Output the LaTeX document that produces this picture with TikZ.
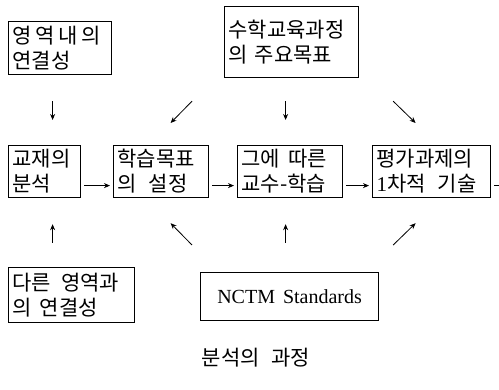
\documentclass[tikz,border=0pt]{standalone}
\usepackage{fontspec}
\setmainfont{Noto Sans CJK KR}
\newfontfamily\tms{Liberation Serif}
\usetikzlibrary{arrows.meta,calc}
\tikzset{
  box/.style={draw, line width=1.2pt, inner xsep=4pt, inner ysep=0pt, align=left, anchor=north west,
    font=\fontsize{21}{25}\selectfont},
  arr/.style={line width=0.8pt, -{Stealth[length=6pt,width=5pt]}},
  captxt/.style={font=\fontsize{21}{25}\selectfont}
}
\begin{document}
\begin{tikzpicture}[x=1pt,y=-1pt]
\useasboundingbox (0,0) rectangle (499,390);
\node[box, text width=95pt, minimum height=53pt] (A) at (8,21) {\mbox{영\hspace{3.5pt}역\hspace{3.5pt}내\hspace{3.5pt}의}\\\mbox{연결성}};
\node[box, text width=126pt, minimum height=71pt] (B) at (224,6) {\mbox{수학교육과정}\\\mbox{의 주요목표}};
\node[box, text width=64pt, minimum height=52pt] (C) at (8,145) {\mbox{교재의}\\\mbox{분석}};
\node[box, text width=87pt, minimum height=52pt] (D) at (113,145) {\mbox{학습목표}\\\mbox{의\hspace{12pt}설정}};
\node[box, text width=97pt, minimum height=52pt] (E) at (237,145) {\mbox{그에\hspace{8pt}따른}\\\mbox{교수-학습}};
\node[box, text width=110pt, minimum height=52pt] (F) at (372,145) {\mbox{평가과제의}\\\mbox{{\tms 1}차적\hspace{12pt}기술}};
\node[box, text width=118pt, minimum height=55pt] (G) at (8,267) {\mbox{다른\hspace{10pt}영역과}\\\mbox{의\hspace{8pt}연결성}};
\node[box, align=center, minimum width=178pt, minimum height=48pt, font=\tms\fontsize{20}{24}\selectfont] (H) at (200,272) {NCTM\hspace{8pt}Standards};
\node[captxt] (T) at (256,358) {분석의\hspace{12pt}과정};
% horizontal arrows
\draw[arr] ($(C.east)+(3,14)$) -- ($(D.west)+(-3,14)$);
\draw[arr] ($(D.east)+(3,14)$) -- ($(E.west)+(-3,14)$);
\draw[arr] ($(E.east)+(3,14)$) -- ($(F.west)+(-3,14)$);
\draw[line width=0.8pt] ($(F.east)+(3,14)$) -- ++(12,0);
% top arrows
\draw[arr] ($(A.south)+(-7.5,26)$) -- ($(C.north)+(8,-25)$);
\draw[arr] ($(B.south west)+(-32,23)$) -- ($(D.north)+(9.5,-22)$);
\draw[arr] ($(B.south)+(-6,23)$) -- ($(E.north)+(-4.5,-25)$);
\draw[arr] ($(B.south east)+(34,23)$) -- ($(F.north)+(-16,-22)$);
% bottom arrows
\draw[arr] ($(G.north)+(-19,-24)$) -- ($(C.south)+(8,26)$);
\draw[arr] ($(H.north west)+(-8,-27)$) -- ($(D.south)+(9.5,25)$);
\draw[arr] ($(H.north)+(-4,-29)$) -- ($(E.south)+(-4.5,26)$);
\draw[arr] ($(H.north east)+(14,-27)$) -- ($(F.south)+(-16,25)$);
\end{tikzpicture}
\end{document}
